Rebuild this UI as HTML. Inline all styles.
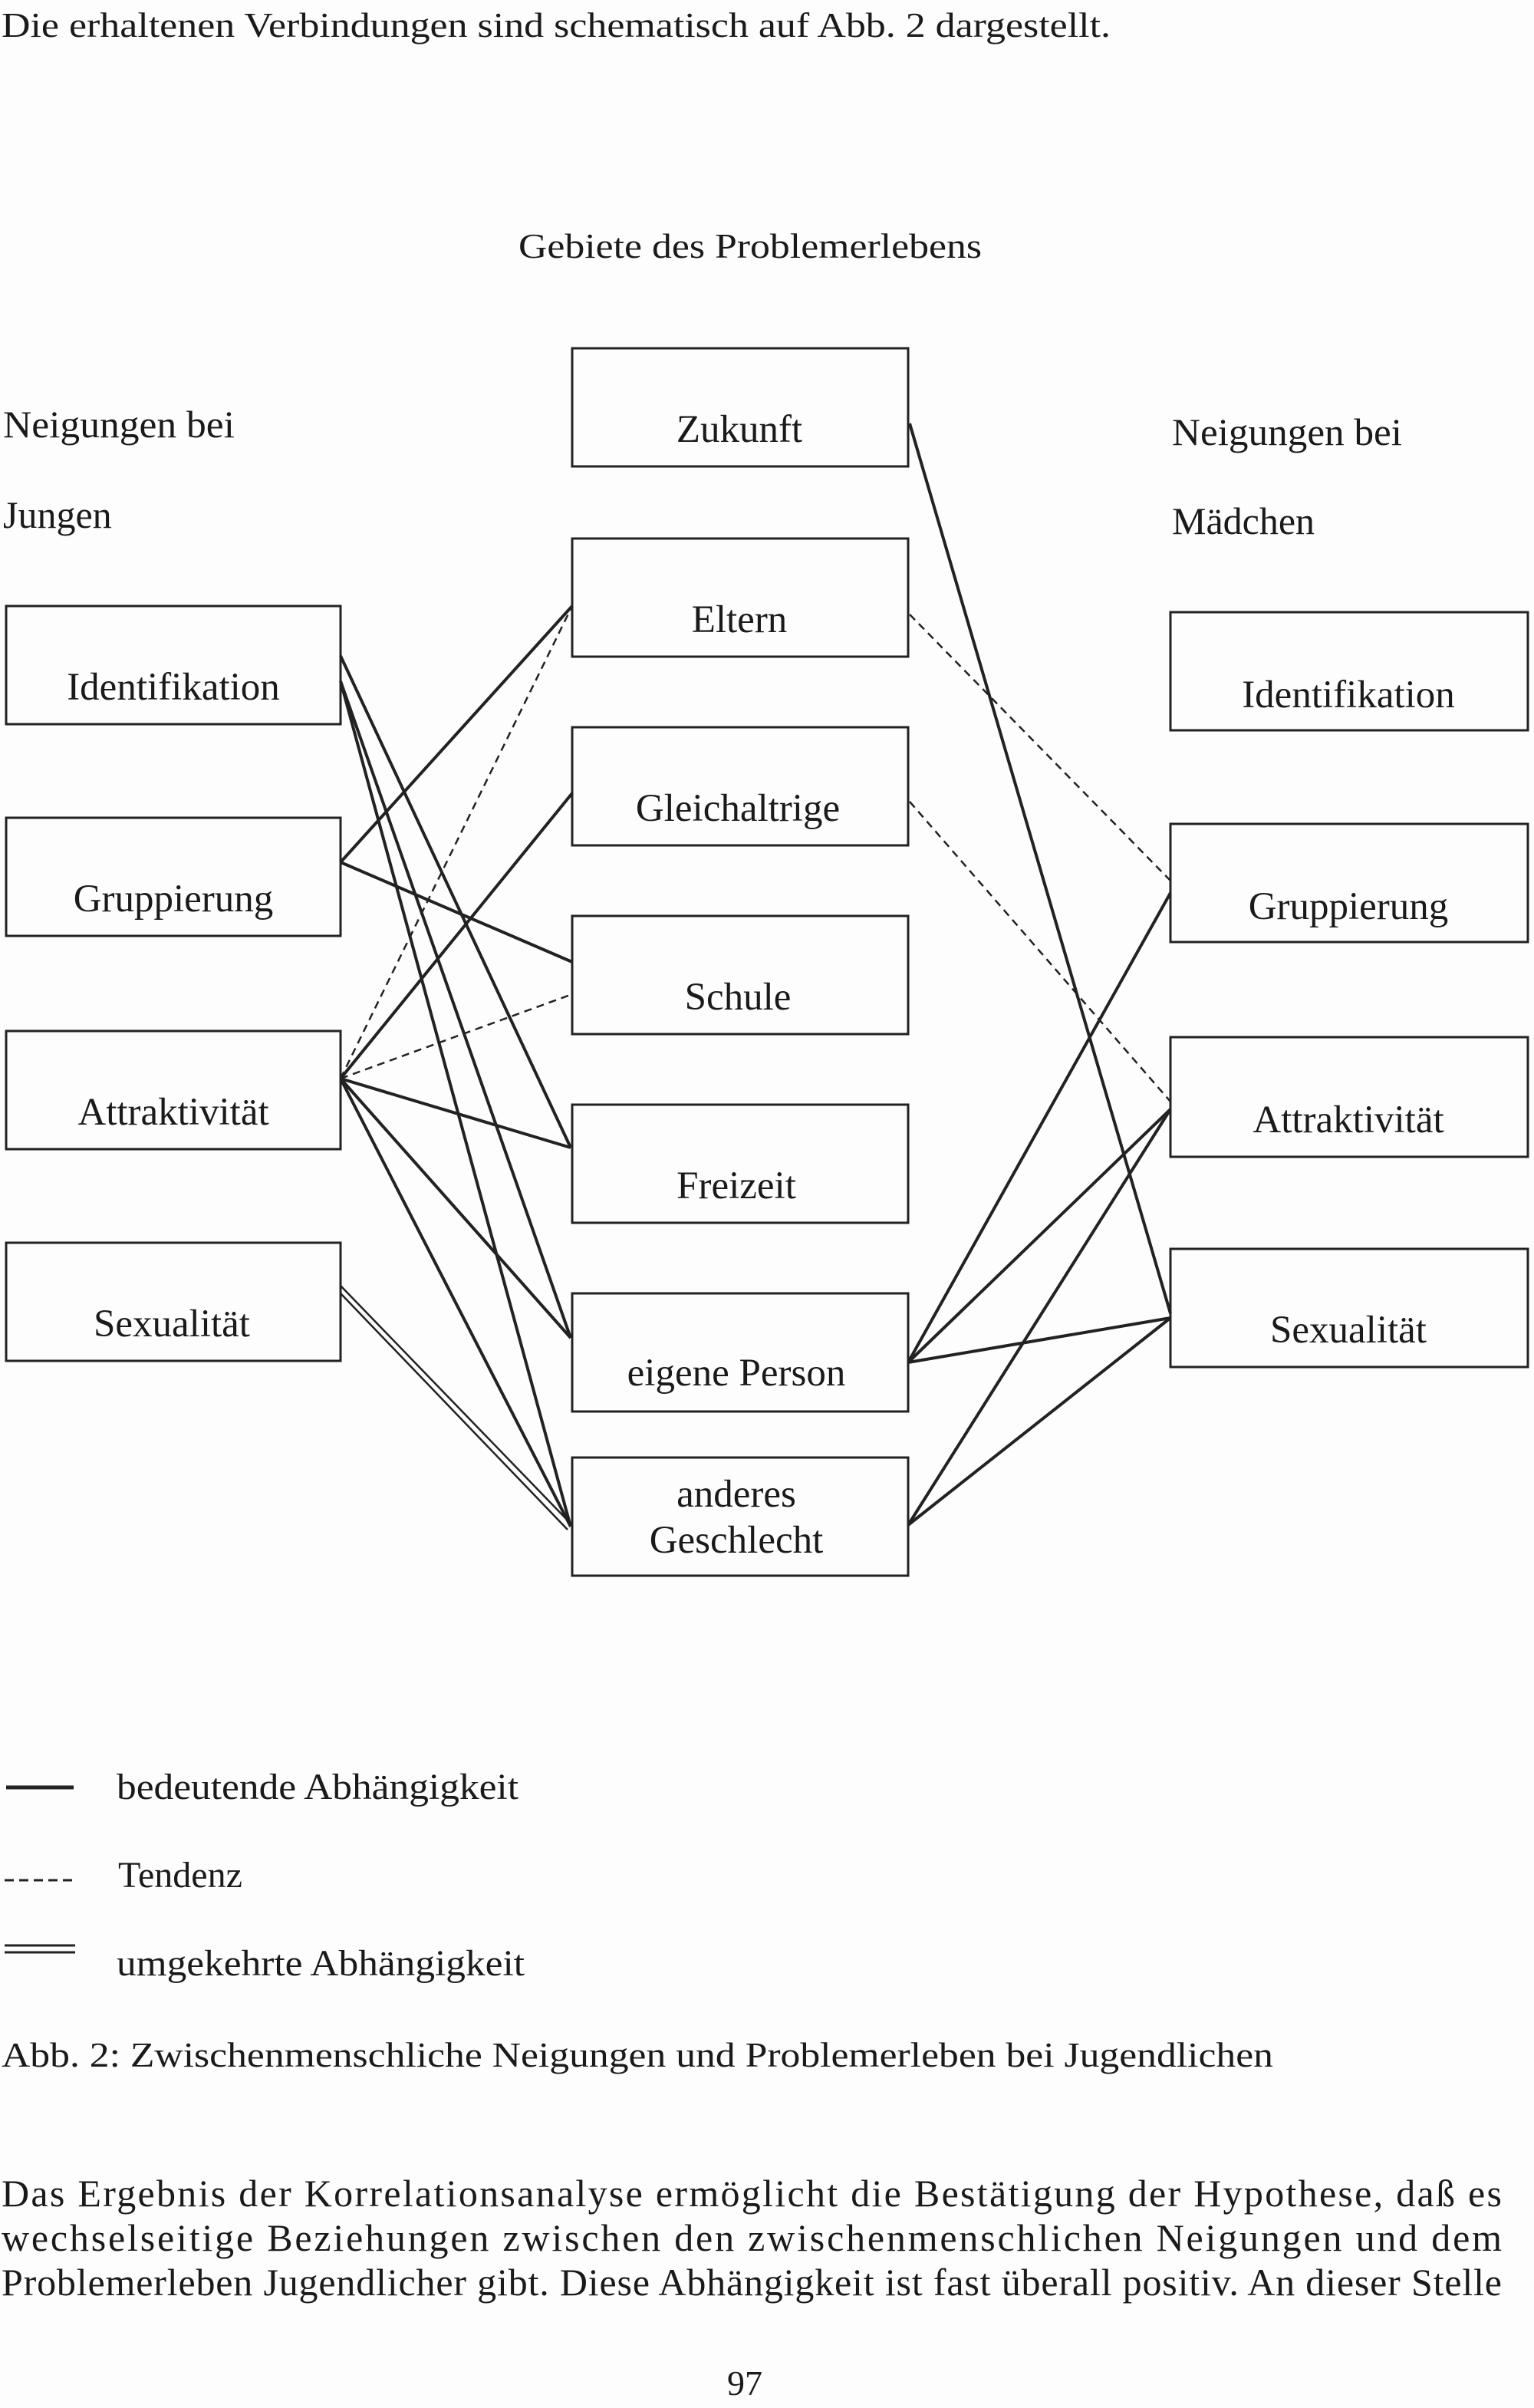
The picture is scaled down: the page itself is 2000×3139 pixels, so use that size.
<!DOCTYPE html>
<html><head><meta charset="utf-8"><style>
html,body{margin:0;padding:0;background:#fdfdfd;}
svg{display:block;}
text{font-family:"Liberation Serif",serif;fill:#1a1a1a;}
</style></head><body>
<svg width="2000" height="3139" viewBox="0 0 2000 3139" xmlns="http://www.w3.org/2000/svg">
<rect width="2000" height="3139" fill="#fdfdfd"/>
<g font-size="46">
<text x="2" y="48" textLength="1446" lengthAdjust="spacingAndGlyphs">Die erhaltenen Verbindungen sind schematisch auf Abb. 2 dargestellt.</text>
<text x="676" y="336" textLength="604" lengthAdjust="spacingAndGlyphs">Gebiete des Problemerlebens</text>
</g>
<g font-size="50">
<text x="4" y="570" textLength="302" lengthAdjust="spacingAndGlyphs">Neigungen bei</text>
<text x="4" y="688">Jungen</text>
<text x="1528" y="580" textLength="300" lengthAdjust="spacingAndGlyphs">Neigungen bei</text>
<text x="1528" y="696">Mädchen</text>
</g>
<g fill="none" stroke="#222" stroke-width="3">
<rect x="8" y="790" width="436" height="154"/>
<rect x="8" y="1066" width="436" height="154"/>
<rect x="8" y="1344" width="436" height="154"/>
<rect x="8" y="1620" width="436" height="154"/>
<rect x="746" y="454" width="438" height="154"/>
<rect x="746" y="702" width="438" height="154"/>
<rect x="746" y="948" width="438" height="154"/>
<rect x="746" y="1194" width="438" height="154"/>
<rect x="746" y="1440" width="438" height="154"/>
<rect x="746" y="1686" width="438" height="154"/>
<rect x="746" y="1900" width="438" height="154"/>
<rect x="1526" y="798" width="466" height="154"/>
<rect x="1526" y="1074" width="466" height="154"/>
<rect x="1526" y="1352" width="466" height="156"/>
<rect x="1526" y="1628" width="466" height="154"/>
</g>
<g font-size="51" text-anchor="middle">
<text x="226" y="912">Identifikation</text>
<text x="226" y="1188">Gruppierung</text>
<text x="226" y="1466">Attraktivität</text>
<text x="224" y="1742">Sexualität</text>
<text x="964" y="576">Zukunft</text>
<text x="964" y="824">Eltern</text>
<text x="962" y="1070">Gleichaltrige</text>
<text x="962" y="1316">Schule</text>
<text x="960" y="1562">Freizeit</text>
<text x="960" y="1806">eigene Person</text>
<text x="960" y="1964">anderes</text>
<text x="960" y="2024">Geschlecht</text>
<text x="1758" y="922">Identifikation</text>
<text x="1758" y="1198">Gruppierung</text>
<text x="1758" y="1476">Attraktivität</text>
<text x="1758" y="1750">Sexualität</text>
</g>
<g stroke="#222" stroke-width="4" fill="none">
<line x1="444" y1="855" x2="744" y2="1496"/>
<line x1="444" y1="888" x2="744" y2="1744"/>
<line x1="444" y1="888" x2="744" y2="1990"/>
<line x1="444" y1="1124" x2="746" y2="790"/>
<line x1="444" y1="1124" x2="746" y2="1254"/>
<line x1="444" y1="1406" x2="746" y2="1034"/>
<line x1="444" y1="1406" x2="744" y2="1496"/>
<line x1="444" y1="1406" x2="744" y2="1744"/>
<line x1="444" y1="1406" x2="744" y2="1990"/>
<line x1="1186" y1="552" x2="1526" y2="1712"/>
<line x1="1184" y1="1776" x2="1526" y2="1164"/>
<line x1="1184" y1="1776" x2="1526" y2="1446"/>
<line x1="1184" y1="1776" x2="1526" y2="1718"/>
<line x1="1184" y1="1988" x2="1526" y2="1446"/>
<line x1="1184" y1="1988" x2="1526" y2="1718"/>
</g>
<g stroke="#222" stroke-width="2.5" fill="none" stroke-dasharray="10,7">
<line x1="444" y1="1406" x2="746" y2="790"/>
<line x1="444" y1="1406" x2="746" y2="1296"/>
<line x1="1186" y1="801" x2="1526" y2="1148"/>
<line x1="1186" y1="1045" x2="1526" y2="1436"/>
</g>
<g stroke="#222" stroke-width="2.5" fill="none">
<line x1="444" y1="1676" x2="744" y2="1986"/>
<line x1="444" y1="1686" x2="740" y2="1994"/>
</g>
<g stroke="#222" fill="none">
<line x1="8" y1="2330" x2="96" y2="2330" stroke-width="5"/>
<line x1="6" y1="2451" x2="98" y2="2451" stroke-width="3" stroke-dasharray="12,7"/>
<line x1="6" y1="2536" x2="98" y2="2536" stroke-width="3"/>
<line x1="6" y1="2545" x2="98" y2="2545" stroke-width="3"/>
</g>
<g font-size="48">
<text x="152" y="2345" textLength="524" lengthAdjust="spacingAndGlyphs">bedeutende Abhängigkeit</text>
<text x="154" y="2460">Tendenz</text>
<text x="152" y="2575" textLength="532" lengthAdjust="spacingAndGlyphs">umgekehrte Abhängigkeit</text>
</g>
<g font-size="46">
<text x="2" y="2694" textLength="1658" lengthAdjust="spacingAndGlyphs">Abb. 2: Zwischenmenschliche Neigungen und Problemerleben bei Jugendlichen</text>
<text x="948" y="3122">97</text>
</g>
<g font-size="50">
<text x="2" y="2876" textLength="1956" lengthAdjust="spacing">Das Ergebnis der Korrelationsanalyse ermöglicht die Bestätigung der Hypothese, daß es</text>
<text x="2" y="2934" textLength="1956" lengthAdjust="spacing">wechselseitige Beziehungen zwischen den zwischenmenschlichen Neigungen und dem</text>
<text x="2" y="2992" textLength="1956" lengthAdjust="spacing">Problemerleben Jugendlicher gibt. Diese Abhängigkeit ist fast überall positiv. An dieser Stelle</text>
</g>
</svg>
</body></html>
